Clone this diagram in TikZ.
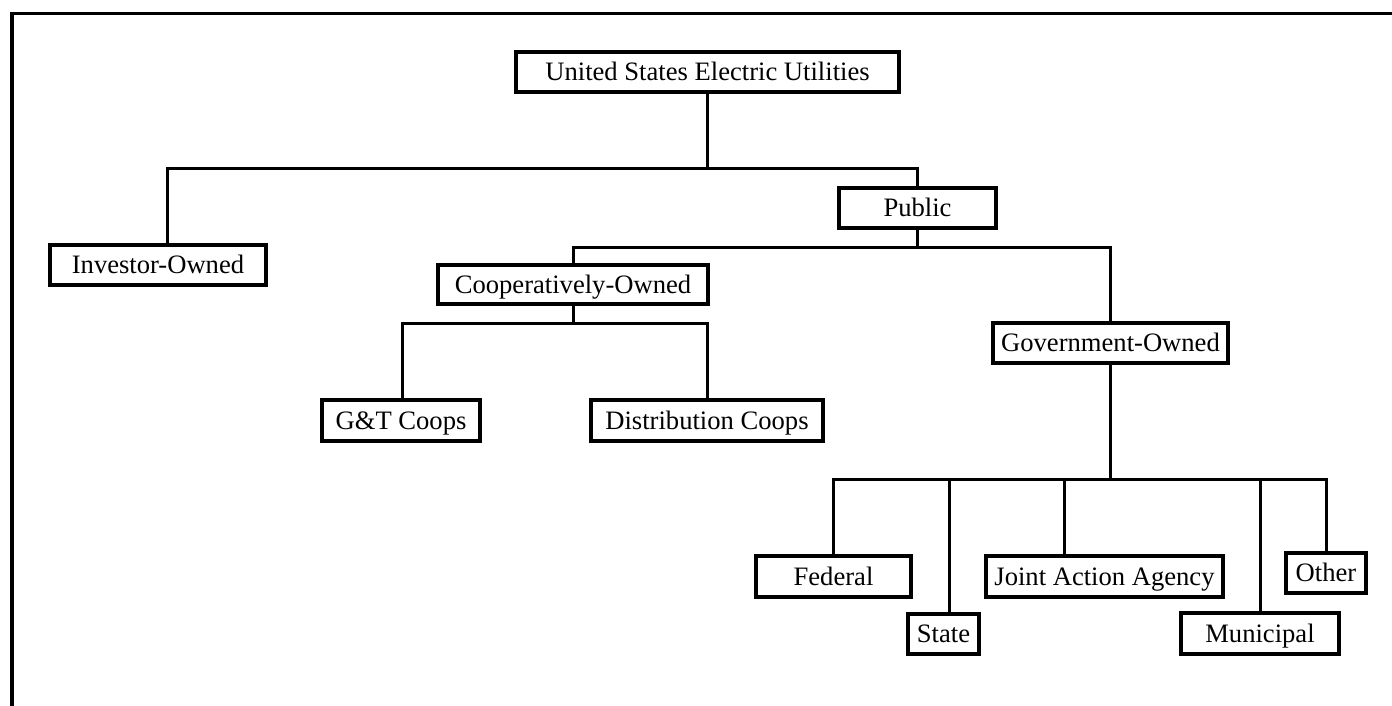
\documentclass[tikz,border=0pt]{standalone}
\usepackage{fontspec}
\setmainfont{Liberation Serif}
\begin{document}
\begin{tikzpicture}[x=0.5pt,y=-0.5pt,
  box/.style={draw=black,line width=1.6pt,inner sep=0pt,anchor=center,
    text height=8.6pt,text depth=0pt,
    font=\fontsize{13.3}{15}\selectfont},
  conn/.style={draw=black,line width=1.5pt},
  frameline/.style={draw=black,line width=1.6pt}]
\useasboundingbox (0,0) rectangle (1392,706);
\fill[white] (0,0) rectangle (1392,706);
% frame
\draw[frameline] (1392,13.5) -- (12,13.5) -- (12,706);
% boxes (centre, size in px)
\node[box,minimum width=191.5pt,minimum height=20pt] (us)   at (707.5,72)  {United States Electric Utilities};
\node[box,minimum width=108pt,minimum height=20pt]   (inv)  at (158,265)   {Investor-Owned};
\node[box,minimum width=78.5pt,minimum height=20pt]  (pub)  at (917.5,208) {Public};
\node[box,minimum width=135pt,minimum height=19.5pt] (coop) at (573,284.5) {Cooperatively-Owned};
\node[box,minimum width=117.5pt,minimum height=20pt] (gov)  at (1110.5,343){Government-Owned};
\node[box,minimum width=79pt,minimum height=20.5pt]  (gt)   at (401,420.5) {G\&T Coops};
\node[box,minimum width=116pt,minimum height=20.5pt] (dist) at (707,420.5) {Distribution Coops};
\node[box,minimum width=77.5pt,minimum height=20.5pt](fed)  at (833.5,576.5){Federal};
\node[box,minimum width=35.5pt,minimum height=20pt]  (st)   at (943.5,634) {State};
\node[box,minimum width=118.5pt,minimum height=20.5pt](jaa) at (1104.5,576.5){Joint Action Agency};
\node[box,minimum width=79pt,minimum height=20.5pt]  (mun)  at (1260,633.5){Municipal};
\node[box,minimum width=40pt,minimum height=20pt]    (oth)  at (1326,573)  {Other};
% junction coordinates
\coordinate (j1) at (167,168);
\coordinate (j2) at (573,247);
\coordinate (j3) at (402,323);
\coordinate (j4) at (833,479);
\coordinate (sx) at (949,479);
\coordinate (jx) at (1064,479);
% connectors
\draw[conn] (us.south) -- (us.south |- j1);
\draw[conn] (inv.north -| j1) -- (j1) -| (pub.north);
\draw[conn] (pub.south) -- (pub.south |- j2);
\draw[conn] (coop.north) -- (coop.north |- j2) -| (gov.north);
\draw[conn] (coop.south) -- (coop.south |- j3);
\draw[conn] (gt.north -| j3) -- (j3) -| (dist.north);
\draw[conn] (gov.south) -- (gov.south |- j4);
\draw[conn] (fed.north) -- (fed.north |- j4) -| (oth.north);
\draw[conn] (sx) -- (sx |- st.north);
\draw[conn] (jx) -- (jx |- jaa.north);
\draw[conn] (mun.north |- j4) -- (mun.north);
\end{tikzpicture}
\end{document}
